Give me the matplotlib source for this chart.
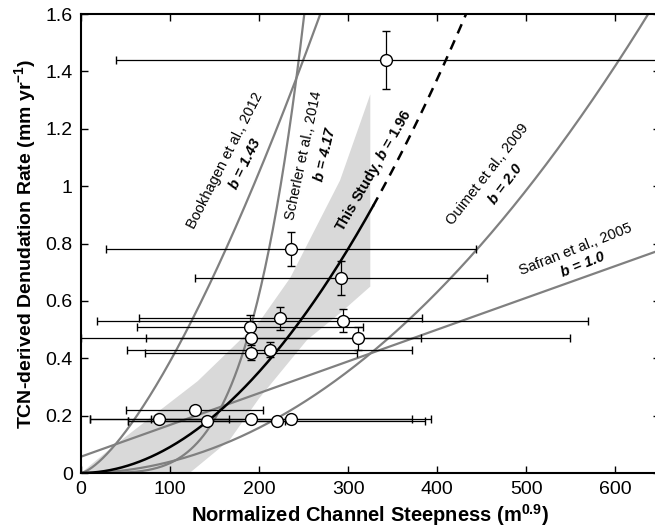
import matplotlib.pyplot as plt
import numpy as np

plt.rcParams['font.family'] = ['Liberation Sans', 'DejaVu Sans']
plt.rcParams['mathtext.fontset'] = 'custom'
plt.rcParams['mathtext.rm'] = 'Liberation Sans'
plt.rcParams['mathtext.it'] = 'Liberation Sans:italic'
plt.rcParams['mathtext.bf'] = 'Liberation Sans:bold'
plt.rcParams['mathtext.bfit'] = 'Liberation Sans:italic:bold'

# basin data: normalized channel steepness and TCN denudation rate
ksn = [128, 88, 141, 191, 220, 236, 224, 294, 190, 191, 311, 191, 212, 292, 236, 343]
ksn_err = [77, 78, 88, 181, 167, 157, 159, 276, 127, 191, 238, 119, 160, 164, 208, 304]
rate = [0.22, 0.19, 0.18, 0.19, 0.18, 0.19, 0.54, 0.53, 0.51, 0.47, 0.47, 0.42, 0.43, 0.68, 0.78, 1.44]
rate_err = [0.01, 0.01, 0.01, 0.01, 0.01, 0.01, 0.04, 0.04, 0.04, 0.005, 0.04, 0.025, 0.025, 0.06, 0.06, 0.10]

# published relations E = c * ksn^b (+ intercept)
studies = ['Bookhagen', 'Scherler', 'Ouimet', 'Safran']
coef = [5.37e-4, 1.58e-10, 3.94e-6, 1.107e-3]
expo = [1.43, 4.17, 2.0, 1.0]
icpt = [0.0, 0.0, 0.0, 0.057]

# this study
c_this, b_this, ksn_max = 1.09e-5, 1.96, 328

# confidence band edges
band_up_k = [0, 35, 131, 201, 235, 291, 325]
band_up_E = [0, 0.09, 0.32, 0.53, 0.68, 1.02, 1.32]
band_lo_k = [0, 122, 167, 200, 254, 291, 325]
band_lo_E = [0, 0, 0.115, 0.26, 0.464, 0.557, 0.65]

fig = plt.figure(figsize=(6.55, 5.31), dpi=100)
ax = fig.add_axes([0.1237, 0.1092, 1.007 - 0.1237, 0.9736 - 0.1092])

ax.fill(np.r_[band_up_k, band_lo_k[::-1]], np.r_[band_up_E, band_lo_E[::-1]],
        color='#d9d9d9', lw=0, zorder=1)

k = np.linspace(0, 700, 800)
for c, b, a in zip(coef, expo, icpt):
    ax.plot(k, a + c * k**b, color='#808080', lw=1.6, zorder=2)

k1 = np.linspace(0, ksn_max, 300)
k2 = np.linspace(ksn_max, 460, 100)
ax.plot(k1, c_this * k1**b_this, color='black', lw=1.8, zorder=3)
ax.plot(k2, c_this * k2**b_this, color='black', lw=1.8, ls=(0, (4, 3)), zorder=3)

ax.errorbar(ksn, rate, xerr=ksn_err, yerr=rate_err, fmt='o', color='black',
            ecolor='black', elinewidth=0.9, capsize=3, capthick=0.9,
            mfc='white', mec='black', ms=8.5, mew=1.0, zorder=4)

kw = dict(ha='center', va='center', rotation_mode='anchor', fontsize=10.5)
ax.text(162, 1.09, 'Bookhagen et al., 2012', rotation=63, **kw)
ax.text(184, 1.077, 'b = 1.43', rotation=64, fontweight='bold', style='italic', **kw)
ax.text(250.5, 1.108, 'Scherler et al., 2014', rotation=78, **kw)
ax.text(274, 1.108, 'b = 4.17', rotation=77, fontweight='bold', style='italic', **kw)
ax.text(328.6, 1.056, r'This Study, $\mathbfit{b}$ = 1.96', rotation=60,
        fontweight='bold', **kw)
ax.text(457, 1.042, 'Ouimet et al., 2009', rotation=52, **kw)
ax.text(477, 1.007, 'b = 2.0', rotation=53, fontweight='bold', style='italic', **kw)
ax.text(556, 0.781, 'Safran et al., 2005', rotation=21.5, **kw)
ax.text(564, 0.725, 'b = 1.0', rotation=22, fontweight='bold', style='italic', **kw)

ax.set_xlim(0, 650)
ax.set_ylim(0, 1.6)
ax.set_xticks(range(0, 700, 100))
yt = [0, 0.2, 0.4, 0.6, 0.8, 1.0, 1.2, 1.4, 1.6]
ax.set_yticks(yt)
ax.set_yticklabels(['0', '0.2', '0.4', '0.6', '0.8', '1', '1.2', '1.4', '1.6'])
ax.tick_params(direction='in', top=True, right=True, labelsize=14, length=5, width=1)
ax.tick_params(axis='x', pad=6)
ax.tick_params(axis='y', pad=6)
for s in ax.spines.values():
    s.set_linewidth(1.5)

ax.set_xlabel(r'Normalized Channel Steepness (m$^{\mathbf{0.9}}$)', fontsize=14.5,
              fontweight='bold', labelpad=3)
ax.set_ylabel(r'TCN-derived Denudation Rate (mm yr$^{\mathbf{-1}}$)', fontsize=14,
              fontweight='bold', labelpad=5)

fig.savefig('out.png', dpi=100)
